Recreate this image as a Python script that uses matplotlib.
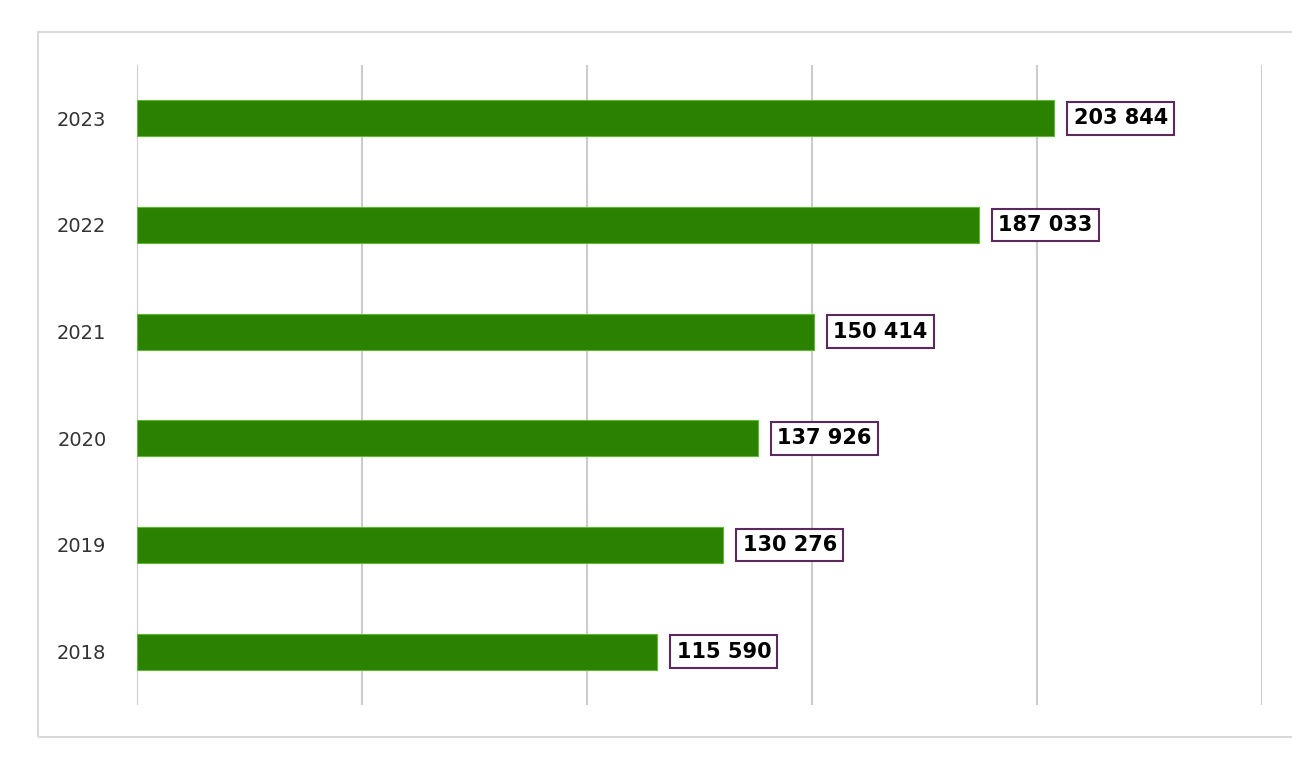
import matplotlib.pyplot as plt
import matplotlib.patches as mpatches

years = ['2018', '2019', '2020', '2021', '2022', '2023']
values = [115590, 130276, 137926, 150414, 187033, 203844]
labels = ['115 590', '130 276', '137 926', '150 414', '187 033', '203 844']

fig = plt.figure(figsize=(12.92, 7.69), dpi=100)
# light grey frame around the chart
fig.patches.append(mpatches.Rectangle((38/1292, 32/769), 1.0, (737-32)/769,
                                      transform=fig.transFigure, fill=False,
                                      edgecolor='#d9d9d9', linewidth=1.5))
ax = fig.add_axes([137/1292, 64/769, 1125/1292, 640/769])

ypos = range(len(years))
ax.barh(ypos, values, height=0.34, color='#2a8200', edgecolor='#5fb82e', linewidth=0.8, zorder=3)
ax.set_xlim(0, 250000)
ax.set_ylim(-0.5, 5.5)
ax.set_xticks(range(0, 250001, 50000))
ax.set_xticklabels([])
ax.set_yticks(list(ypos))
ax.set_yticklabels(years, fontsize=14, color='#333333')
ax.tick_params(length=0, pad=22)
ax.xaxis.grid(True, color='#cccccc', linewidth=1.5)
for s in ax.spines.values():
    s.set_visible(False)

for y, v, t in zip(ypos, values, labels):
    ax.annotate(t, (v, y), xytext=(14, 0), textcoords='offset points', va='center', ha='left',
                fontsize=15, fontweight='bold', color='black', zorder=4,
                bbox=dict(boxstyle='square,pad=0.3', facecolor='white', edgecolor='#5a2a5e', linewidth=1.5))

plt.savefig('out.png', dpi=100)
